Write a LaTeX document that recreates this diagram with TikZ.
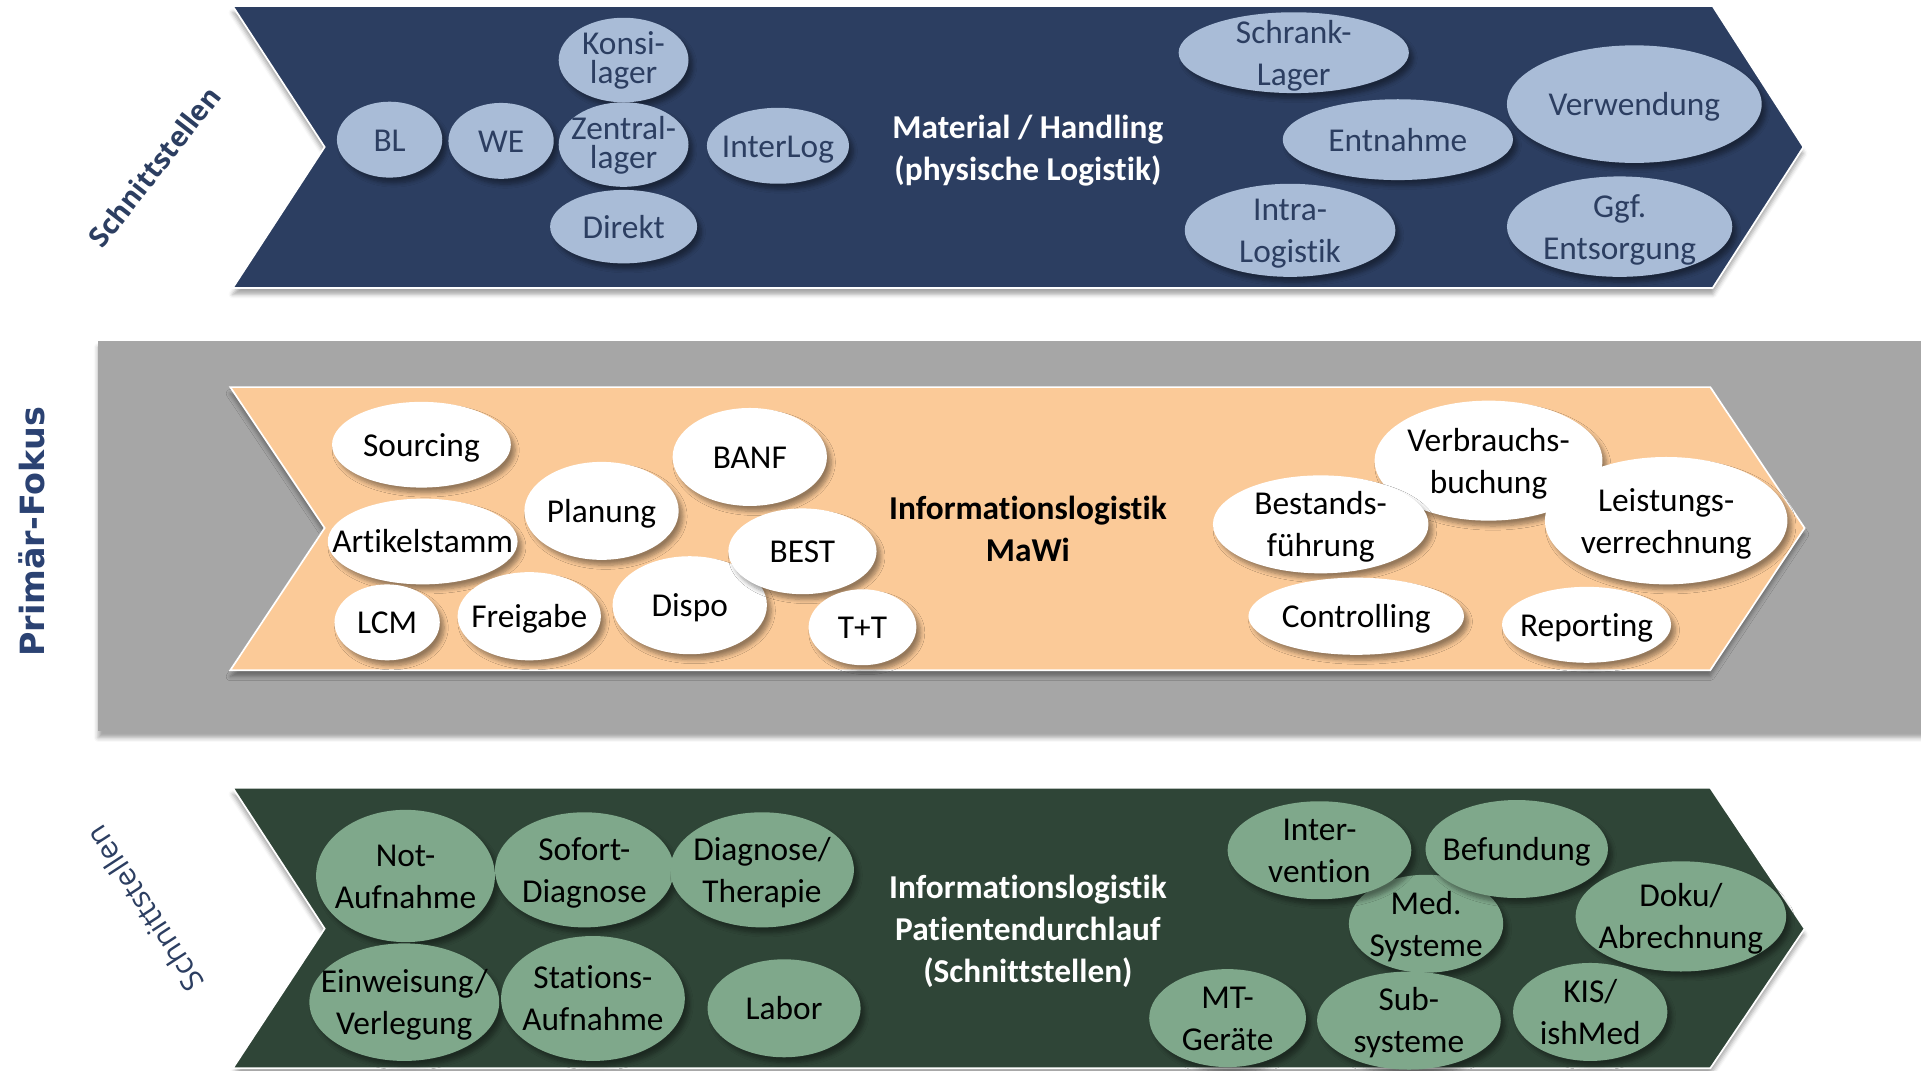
\documentclass[tikz,border=0pt]{standalone}
\usepackage{fontspec}
\setmainfont{Carlito}[Ligatures=NoCommon]
\newfontfamily\fokusfont{DejaVu Sans}
\newfontfamily\sidefont{Open Sans}
\usetikzlibrary{shapes.geometric,shadows.blur}
\definecolor{navy}{HTML}{2C3E61}
\definecolor{bluebub}{HTML}{A9BCD7}
\definecolor{peach}{HTML}{FBCA98}
\definecolor{band}{HTML}{A6A6A6}
\definecolor{forest}{HTML}{2F4537}
\definecolor{greenbub}{HTML}{7FA88B}
\definecolor{fokus}{HTML}{2B4272}
\newcommand{\bubfont}{\fontsize{15.5}{19.5}\selectfont}
\tikzset{
	pptline/.style={text height=14.5pt,text depth=3.9pt},
	two/.style={text height=34pt},
	three/.style={text height=53.5pt},
	tight/.style={text height=26pt},
	bub/.style 2 args={ellipse,inner sep=-40pt,minimum width=#1*0.04cm,minimum height=#2*0.04cm,align=center,font=\bubfont,pptline,
		blur shadow={shadow xshift=2pt,shadow yshift=-2.5pt,shadow blur steps=6,shadow opacity=40}},
	bl/.style 2 args={bub={#1}{#2},fill=bluebub,text=navy},
	wt/.style 2 args={bub={#1}{#2},fill=white,text=black},
	gr/.style 2 args={bub={#1}{#2},fill=greenbub,text=black},
	title/.style={font=\bubfont\bfseries,align=center,pptline},
	arrowband/.style={draw=white,line width=0.8pt,blur shadow={shadow xshift=0pt,shadow yshift=-3pt,shadow opacity=35}}
}
\begin{document}
\begin{tikzpicture}[x=0.02cm,y=-0.02cm]
				\useasboundingbox (0,0) rectangle (1568,874);
				\path[fill=navy,arrowband](190,5)--(1398,5)--(1472,120)--(1398,235)--(190,235)--(265,120)--cycle;
				\path[fill=band,blur shadow={shadow xshift=0pt,shadow yshift=-3pt,shadow opacity=35}](80,278)rectangle(1580,597);
				\path[fill=peach,arrowband](188,316)--(1396,316)--(1473,431)--(1396,547)--(188,547)--(265,431)--cycle;
				\path[fill=forest,arrowband](190,643)--(1396,643)--(1473,758)--(1396,872)--(190,872)--(265,758)--cycle;
				\node[text=fokus,font=\fokusfont\fontsize{15.5}{18}\selectfont\bfseries,rotate=90] (fokus) at (26,434) {Primär-Fokus};
				\node[text=navy,font=\sidefont\fontsize{13}{16}\selectfont\bfseries,rotate=52] (schnittoben) at (126,136) {Schnittstellen};
				\node[text=navy,font=\sidefont\fontsize{14}{16}\selectfont,rotate=123] (schnittunten) at (118,742) {Schnittstellen};
				\node[title,two,text=white] (material) at (839,121) {Material / Handling\\(physische Logistik)};
				\node[title,two] (mawi) at (839,432) {Informationslogistik\\MaWi};
				\node[title,three,text=white] (patient) at (839,758) {Informationslogistik\\Patientendurchlauf\\(Schnittstellen)};
				\node[bl={43}{31}] (bl) at (318,114) {BL};
				\node[bl={43}{31}] (we) at (409,115) {WE};
				\node[bl={53}{34.5},tight] (konsi) at (509,49) {Konsi-\\[-6pt]lager};
				\node[bl={53}{34.5},tight] (zentral) at (509,118) {Zentral-\\[-6pt]lager};
				\node[bl={60}{30}] (direkt) at (509,185) {Direkt};
				\node[bl={58}{31}] (interlog) at (635,119) {InterLog};
				\node[bl={94}{33},two] (schrank) at (1056,43) {Schrank-\\Lager};
				\node[bl={94}{33}] (entnahme) at (1141,114) {Entnahme};
				\node[bl={86}{38},two] (intra) at (1053,188) {Intra-\\Logistik};
				\node[bl={104}{48}] (verwendung) at (1334,85) {Verwendung};
				\node[bl={92}{41},two] (entsorgung) at (1322,185) {Ggf.\\Entsorgung};
				\node[wt={73}{35}] (sourcing) at (344,363) {Sourcing};
				\node[wt={77.5}{35}] (artikel) at (345,442) {Artikelstamm};
				\node[wt={63}{40}] (planung) at (491,417) {Planung};
				\node[wt={63}{40}] (banf) at (612,373) {BANF};
				\node[wt={63}{40}] (dispo) at (563,494) {Dispo};
				\node[wt={60.5}{35}] (best) at (655,450) {BEST};
				\node[wt={43}{31}] (lcm) at (316,508) {LCM};
				\node[wt={58.5}{36}] (freigabe) at (432,503) {Freigabe};
				\node[wt={44}{31}] (tt) at (704,512) {T+T};
				\node[wt={93}{49},two] (verbrauch) at (1215,376) {Verbrauchs-\\buchung};
				\node[wt={88}{40},two] (bestand) at (1078,428) {Bestands-\\führung};
				\node[wt={99}{52},two] (leistung) at (1360,425) {Leistungs-\\verrechnung};
				\node[wt={88}{31.5}] (controlling) at (1107,503) {Controlling};
				\node[wt={69}{31}] (reporting) at (1295,510) {Reporting};
				\node[gr={73}{54},two] (notauf) at (331,715) {Not-\\Aufnahme};
				\node[gr={73}{47},two] (sofort) at (477,710) {Sofort-\\Diagnose};
				\node[gr={75}{47},two] (diagnose) at (622,710) {Diagnose/\\Therapie};
				\node[gr={77.5}{48},two] (einweisung) at (330,818) {Einweisung/\\Verlegung};
				\node[gr={75}{51},two] (station) at (484,815) {Stations-\\Aufnahme};
				\node[gr={62.5}{40}] (labor) at (640,823) {Labor};
				\node[gr={63}{40},two] (medsys) at (1164,754) {Med.\\Systeme};
				\node[gr={75}{40},two] (intervention) at (1077,694) {Inter-\\vention};
				\node[gr={74.5}{40}] (befundung) at (1238,693) {Befundung};
				\node[gr={86}{45},two] (doku) at (1372,748) {Doku/\\Abrechnung};
				\node[gr={64}{40},two] (mtgeraete) at (1002,831) {MT-\\Geräte};
				\node[gr={75}{40},two] (subsys) at (1150,833) {Sub-\\systeme};
				\node[gr={63}{40},two] (kis) at (1298,826) {KIS/\\ishMed};
\end{tikzpicture}
\end{document}
